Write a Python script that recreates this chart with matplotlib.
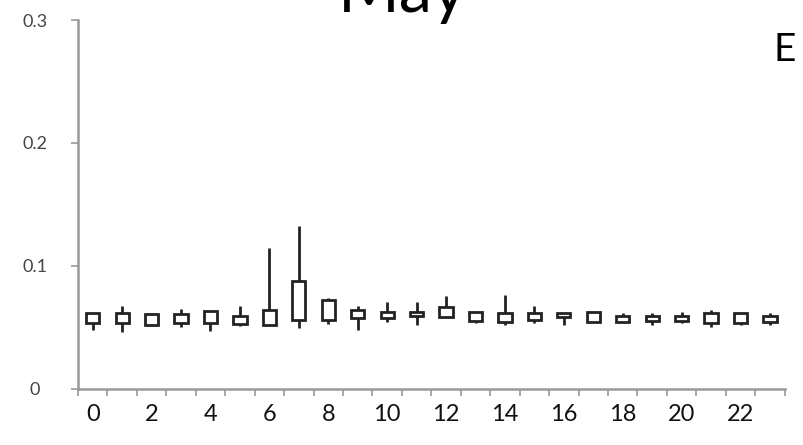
import matplotlib
matplotlib.use('Agg')
import matplotlib.pyplot as plt
import numpy as np

plt.rcParams['font.family'] = ['Lato', 'DejaVu Sans']

# hourly high / upper / lower / low values
hours = list(range(24))
high = [0.061, 0.0675, 0.061, 0.065, 0.0634, 0.0675, 0.1146, 0.1325, 0.074, 0.0675, 0.0707, 0.0707,
        0.0756, 0.0626, 0.076, 0.0675, 0.0618, 0.0626, 0.0618, 0.0618, 0.0626, 0.0642, 0.0618, 0.0618]
upper = [0.0618, 0.0618, 0.061, 0.061, 0.0634, 0.0593, 0.0642, 0.0878, 0.0724, 0.0642, 0.0626, 0.0626,
         0.0667, 0.0626, 0.0618, 0.0618, 0.0618, 0.0626, 0.0593, 0.0593, 0.0593, 0.0618, 0.0618, 0.0593]
lower = [0.0537, 0.0537, 0.052, 0.0537, 0.0537, 0.0528, 0.052, 0.0561, 0.0561, 0.0577, 0.0577, 0.059,
         0.0585, 0.0553, 0.0545, 0.0561, 0.0585, 0.0545, 0.0545, 0.0553, 0.0553, 0.0537, 0.0537, 0.0545]
low = [0.048, 0.0463, 0.052, 0.0504, 0.0472, 0.0512, 0.052, 0.0496, 0.0528, 0.048, 0.0545, 0.052,
       0.0585, 0.0537, 0.052, 0.0537, 0.052, 0.0545, 0.0545, 0.052, 0.0537, 0.0504, 0.052, 0.052]
xlabels = [str(h) if h % 2 == 0 else '' for h in hours]

fig = plt.figure(figsize=(8.04, 4.45), dpi=100)
ax = fig.add_axes([0.097, 0.126, 0.879, 0.829])

x = np.array(hours)
ax.vlines(x, low, high, color='#222222', lw=2, zorder=2)
ax.bar(x, np.array(upper) - np.array(lower), bottom=lower, width=0.45,
       facecolor='white', edgecolor='#222222', linewidth=2, zorder=3)

ax.set_xlim(-0.5, 23.5)
ax.set_ylim(0, 0.3)
ax.set_yticks([0, 0.1, 0.2, 0.3])
ax.set_yticklabels(['0', '0.1', '0.2', '0.3'], fontsize=13, color='#444444', ha='center')
ax.set_xticks(x)
ax.set_xticklabels(xlabels, fontsize=17, color='#111111')
ax.set_xticks(np.arange(-0.5, 24, 1), minor=True)
ax.tick_params(axis='x', which='major', length=0, pad=11)
ax.tick_params(axis='x', which='minor', length=5, width=1.2, color='#999999', direction='out')
ax.tick_params(axis='y', length=5, width=1.2, color='#999999', direction='out', pad=26)

for s in ['top', 'right']:
    ax.spines[s].set_visible(False)
ax.spines['left'].set_color('#999999')
ax.spines['bottom'].set_color('#999999')
ax.spines['left'].set_linewidth(1.8)
ax.spines['bottom'].set_linewidth(1.8)

fig.text(403 / 804, 1 - 12 / 445, 'May', ha='center', va='baseline', fontsize=48)
fig.text(785 / 804, 1 - 50 / 445, 'E', ha='center', va='center', fontsize=28)

plt.savefig('out.png', dpi=100)
